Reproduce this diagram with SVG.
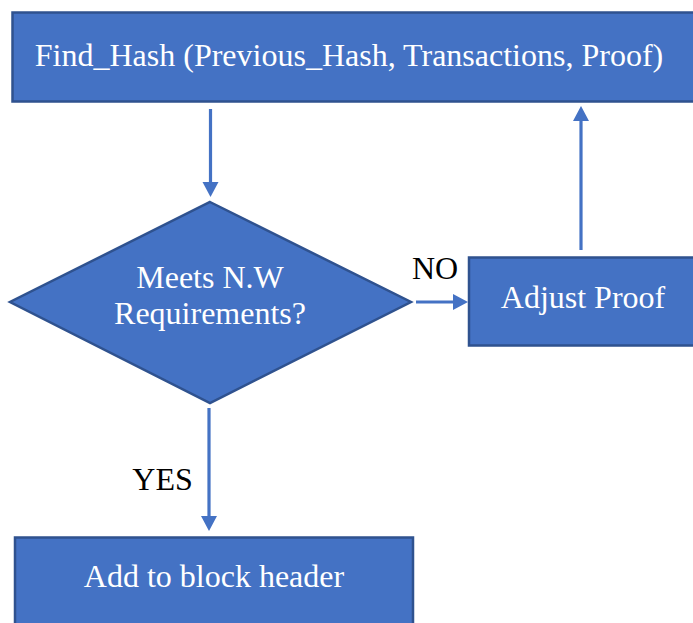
<svg xmlns="http://www.w3.org/2000/svg" width="693" height="623" viewBox="0 0 693 623">
  <style>
    .box { fill: #4472C4; stroke: #2F528F; stroke-width: 2.5; }
    .label { font-family: "Liberation Serif", "Times New Roman", serif; font-size: 32px; fill: #FFFFFF; text-anchor: middle; }
    .tag { font-family: "Liberation Serif", "Times New Roman", serif; font-size: 32px; fill: #000000; text-anchor: middle; }
    .edge { stroke: #4472C4; stroke-width: 3.2; fill: none; marker-end: url(#head); }
  </style>
  <defs>
    <!-- arrowhead drawn from the end of the shaft forward to its tip -->
    <marker id="head" markerUnits="userSpaceOnUse" markerWidth="16" markerHeight="16" refX="0" refY="8" orient="auto" overflow="visible">
      <path d="M0,0 L15,8 L0,16 Z" fill="#4472C4"/>
    </marker>
  </defs>

  <rect width="693" height="623" fill="#FFFFFF"/>

  <g id="find-hash">
    <rect class="box" x="12.5" y="12.5" width="700" height="89"/>
    <text class="label" x="349" y="66">Find_Hash (Previous_Hash, Transactions, Proof)</text>
  </g>

  <g id="meets-requirements">
    <polygon class="box" points="210,202 411,302 210,403 10,302"/>
    <text class="label" x="210" y="288">Meets N.W</text>
    <text class="label" x="210" y="324">Requirements?</text>
  </g>

  <g id="adjust-proof">
    <rect class="box" x="469" y="257.5" width="240" height="88"/>
    <text class="label" x="583" y="308">Adjust Proof</text>
  </g>

  <g id="add-to-header">
    <rect class="box" x="15" y="537.5" width="398" height="100"/>
    <text class="label" x="214" y="587">Add to block header</text>
  </g>

  <g id="connectors">
    <line class="edge" x1="210.5" y1="109" x2="210.5" y2="182"/>
    <line class="edge" x1="416" y1="302" x2="453" y2="302"/>
    <line class="edge" x1="581" y1="250" x2="581" y2="121"/>
    <line class="edge" x1="209" y1="408" x2="209" y2="516"/>
    <text class="tag" x="435" y="279">NO</text>
    <text class="tag" x="162.5" y="490">YES</text>
  </g>
</svg>
